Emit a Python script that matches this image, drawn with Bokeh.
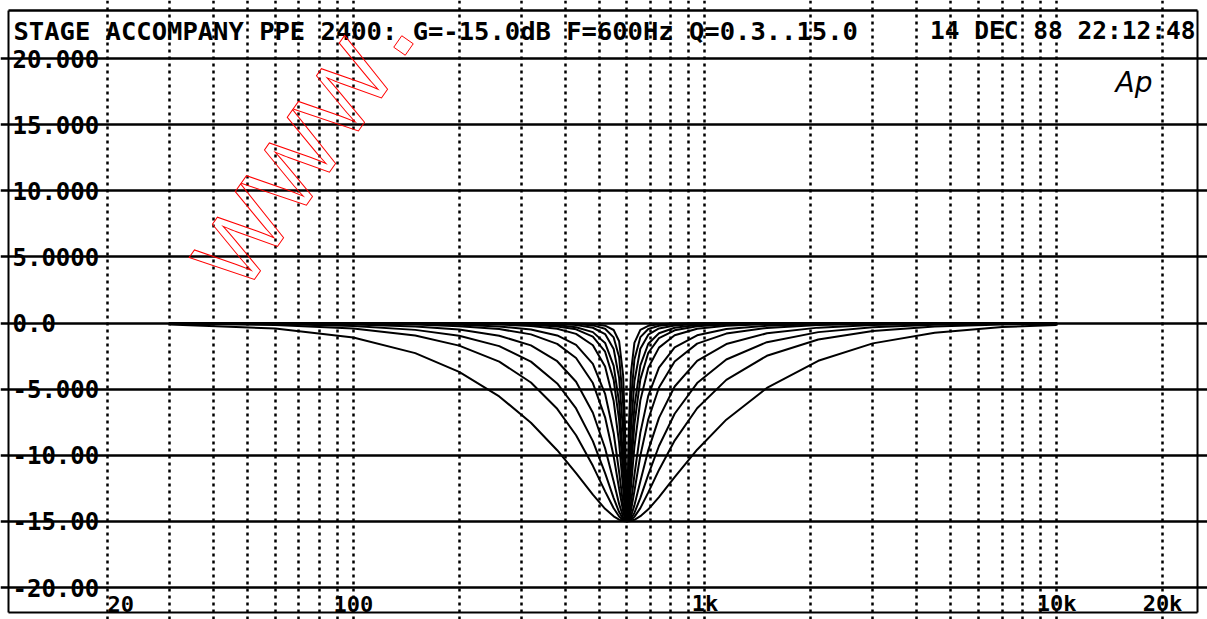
from bokeh.plotting import figure
from bokeh.models import Range1d, FixedTicker, Label
from bokeh.embed import file_html
from bokeh.resources import INLINE

# ---- data -----------------------------------------------------------------
freq_hz = [30, 60, 100, 150, 200, 260, 320, 380, 430, 480, 520, 550, 570, 585,
           592, 600, 608, 616, 630, 655, 690, 740, 820, 950, 1150, 1500, 2100,
           3000, 4500, 7000, 10000]

gain_q_0_3 = [-0.11, -0.42, -1.10, -2.28, -3.69, -5.55, -7.54, -9.62, -11.36, -12.98, -14.05,
              -14.62, -14.87, -14.97, -14.99, -15.0, -14.99, -14.97, -14.88, -14.61, -14.09,
              -13.17, -11.66, -9.58, -7.31, -4.91, -2.86, -1.54, -0.73, -0.31, -0.15]
gain_q_0_5 = [-0.04, -0.15, -0.42, -0.95, -1.71, -2.92, -4.50, -6.49, -8.49, -10.80, -12.73,
              -14.01, -14.63, -14.91, -14.97, -15.0, -14.97, -14.90, -14.66, -14.00, -12.81,
              -11.11, -8.89, -6.45, -4.30, -2.48, -1.25, -0.61, -0.27, -0.11, -0.05]
gain_q_0_7 = [-0.02, -0.08, -0.22, -0.52, -0.96, -1.75, -2.92, -4.57, -6.46, -8.93, -11.35,
              -13.24, -14.30, -14.82, -14.95, -15.0, -14.95, -14.80, -14.36, -13.22, -11.46,
              -9.30, -6.86, -4.54, -2.76, -1.45, -0.69, -0.32, -0.14, -0.06, -0.03]
gain_q_1_0 = [-0.01, -0.04, -0.11, -0.26, -0.50, -0.96, -1.69, -2.89, -4.44, -6.79, -9.47,
              -11.99, -13.68, -14.64, -14.90, -15.0, -14.90, -14.61, -13.79, -11.96, -9.61,
              -7.17, -4.80, -2.86, -1.59, -0.78, -0.35, -0.16, -0.07, -0.03, -0.01]
gain_q_1_5 = [0.0, -0.02, -0.05, -0.12, -0.24, -0.46, -0.86, -1.58, -2.65, -4.54, -7.13,
              -10.08, -12.53, -14.24, -14.77, -15.0, -14.78, -14.19, -12.71, -10.03, -7.28,
              -4.88, -2.91, -1.56, -0.80, -0.37, -0.16, -0.07, -0.03, -0.01, -0.01]
gain_q_2_0 = [0.0, -0.01, -0.03, -0.07, -0.13, -0.26, -0.49, -0.94, -1.66, -3.09, -5.35,
              -8.33, -11.25, -13.71, -14.59, -15.0, -14.60, -13.62, -11.49, -8.29, -5.49,
              -3.37, -1.85, -0.93, -0.46, -0.21, -0.09, -0.04, -0.02, -0.01, 0.0]
gain_q_3_0 = [0.0, 0.0, -0.01, -0.03, -0.06, -0.12, -0.23, -0.44, -0.82, -1.68, -3.29,
              -5.90, -9.07, -12.53, -14.14, -15.0, -14.16, -12.39, -9.36, -5.85, -3.39,
              -1.86, -0.93, -0.44, -0.21, -0.09, -0.04, -0.02, -0.01, 0.0, 0.0]
gain_q_4_0 = [0.0, 0.0, 0.0, -0.02, -0.03, -0.07, -0.13, -0.26, -0.48, -1.03, -2.17,
              -4.30, -7.34, -11.32, -13.58, -15.0, -13.61, -11.13, -7.65, -4.26, -2.25,
              -1.15, -0.55, -0.25, -0.12, -0.05, -0.02, -0.01, 0.0, 0.0, 0.0]
gain_q_5_0 = [0.0, 0.0, 0.0, 0.0, -0.02, -0.04, -0.08, -0.17, -0.32, -0.69, -1.51,
              -3.24, -6.01, -10.18, -12.96, -15.0, -13.00, -9.96, -6.30, -3.20, -1.57,
              -0.77, -0.36, -0.16, -0.08, -0.03, -0.01, 0.0, 0.0, 0.0, 0.0]
gain_q_7_0 = [0.0, 0.0, 0.0, 0.0, 0.0, -0.02, -0.04, -0.08, -0.16, -0.36, -0.84,
              -1.97, -4.15, -8.23, -11.66, -15.0, -11.72, -8.00, -4.41, -1.95, -0.88,
              -0.41, -0.19, -0.08, -0.04, -0.02, -0.01, 0.0, 0.0, 0.0, 0.0]
gain_q_10_0 = [0.0, 0.0, 0.0, 0.0, 0.0, 0.0, -0.02, -0.04, -0.08, -0.18, -0.43,
               -1.09, -2.57, -6.08, -9.85, -15.0, -9.93, -5.86, -2.76, -1.07, -0.45,
               -0.21, -0.09, -0.04, -0.02, -0.01, 0.0, 0.0, 0.0, 0.0, 0.0]
gain_q_15_0 = [0.0, 0.0, 0.0, 0.0, 0.0, 0.0, 0.0, -0.02, -0.04, -0.08, -0.20,
               -0.53, -1.38, -3.94, -7.54, -15.0, -7.62, -3.75, -1.50, -0.52, -0.21,
               -0.09, -0.04, -0.02, -0.01, 0.0, 0.0, 0.0, 0.0, 0.0, 0.0]

curves = [gain_q_0_3, gain_q_0_5, gain_q_0_7, gain_q_1_0, gain_q_1_5, gain_q_2_0,
          gain_q_3_0, gain_q_4_0, gain_q_5_0, gain_q_7_0, gain_q_10_0, gain_q_15_0]

y_ticks = [20, 15, 10, 5, 0, -5, -10, -15, -20]
y_tick_labels = ["20.000", "15.000", "10.000", "5.0000", "0.0", "-5.000", "-10.00", "-15.00", "-20.00"]
x_ticks = [20, 100, 1000, 10000, 20000]
x_tick_labels = ["20", "100", "1k", "10k", "20k"]
x_tick_align = ["left", "center", "center", "center", "center"]
x_grid = [20, 30, 40, 50, 60, 70, 80, 90, 100, 200, 300, 400, 500, 600, 700, 800, 900,
          1000, 2000, 3000, 4000, 5000, 6000, 7000, 8000, 9000, 10000, 20000]

title_text = "STAGE ACCOMPANY PPE 2400: G=-15.0dB F=600Hz Q=0.3..15.0"
date_text = "14 DEC 88 22:12:48"
watermark_text = "WWW"

MONO = "DejaVu Sans Mono"

# ---- layout: the frame fills the whole canvas -------------------------------
W, H = 1207, 619
PX_LEFT, PX_RIGHT = 107.0, 1162.0      # pixel of 20 Hz and 20 kHz
PX_TOP, PX_BOT = 58.0, 587.0           # pixel of +20 dB and -20 dB
F0, F1, D0, D1 = 20.0, 20000.0, -20.0, 20.0
ppd = (PX_RIGHT - PX_LEFT) / 3.0       # pixels per decade
ppdb = (PX_BOT - PX_TOP) / (D1 - D0)   # pixels per dB


def fx(px):
    return F0 * 10 ** ((px - PX_LEFT) / ppd)


def dy(py):
    return D1 - (py - PX_TOP) / ppdb


p = figure(width=W, height=H, x_axis_type="log",
           x_range=Range1d(fx(0), fx(W)), y_range=Range1d(dy(H), dy(0)),
           output_backend="svg", toolbar_location=None,
           min_border_left=0, min_border_right=0, min_border_top=0, min_border_bottom=0)
p.xaxis.visible = False
p.yaxis.visible = False
p.outline_line_color = None
p.background_fill_color = "white"
p.border_fill_color = "white"

p.xgrid.ticker = FixedTicker(ticks=x_grid)
p.xgrid.bounds = (D0, D1)
p.xgrid.grid_line_color = "black"
p.xgrid.grid_line_width = 2.5
p.xgrid.grid_line_dash = "3 4"
p.ygrid.ticker = FixedTicker(ticks=y_ticks)
p.ygrid.bounds = (F0, F1)
p.ygrid.grid_line_color = "black"
p.ygrid.grid_line_width = 2.5

# outer frame of the print
p.line([fx(8), fx(1197)], [dy(10), dy(10)], line_color="black", line_width=2.5)
p.line([fx(8), fx(1197)], [dy(612), dy(612)], line_color="black", line_width=2)
p.line([fx(8), fx(8)], [dy(10), dy(612)], line_color="black", line_width=2)
p.line([fx(1197), fx(1197)], [dy(10), dy(612)], line_color="black", line_width=2)

for g in curves:
    p.line(freq_hz, g, line_color="black", line_width=2)

for v, t in zip(y_ticks, y_tick_labels):
    p.add_layout(Label(x=F0, y=v, x_offset=-95, text=t, text_font=MONO, text_font_style="bold",
                       text_font_size="24px", text_align="left", text_baseline="middle",
                       text_color="black"))
for v, t, a in zip(x_ticks, x_tick_labels, x_tick_align):
    p.add_layout(Label(x=v, y=D0, y_offset=-16, text=t, text_font=MONO, text_font_style="bold",
                       text_font_size="22px", text_align=a, text_baseline="middle",
                       text_color="black"))

p.add_layout(Label(x=F0, y=D1, x_offset=-94, y_offset=28, text=title_text, text_font=MONO,
                   text_font_style="bold", text_font_size="25.5px", text_align="left",
                   text_baseline="middle", text_color="black"))
p.add_layout(Label(x=F1, y=D1, x_offset=33, y_offset=28, text=date_text, text_font=MONO,
                   text_font_style="bold", text_font_size="24.5px", text_align="right",
                   text_baseline="middle", text_color="black"))
p.add_layout(Label(x=F1, y=D1, x_offset=-10, y_offset=-24, text="Ap", text_font="DejaVu Sans",
                   text_font_style="italic", text_font_size="28px", text_align="right",
                   text_baseline="middle", text_color="black"))

# red outlined watermark (the dot drawn as a rotated hollow square)
p.add_layout(Label(x=F0, y=D1, x_offset=108, y_offset=-218, angle=55, angle_units="deg",
                   text=watermark_text, text_font="Liberation Sans", text_font_size="96px",
                   text_align="left", text_baseline="alphabetic",
                   text_color="rgba(0,0,0,0)", text_outline_color="red"))
p.scatter([fx(403)], [dy(45)], marker="square", size=14, angle=55, angle_units="deg",
          fill_color=None, line_color="red", line_width=1)

open("out.html", "w").write(file_html(p, INLINE))
